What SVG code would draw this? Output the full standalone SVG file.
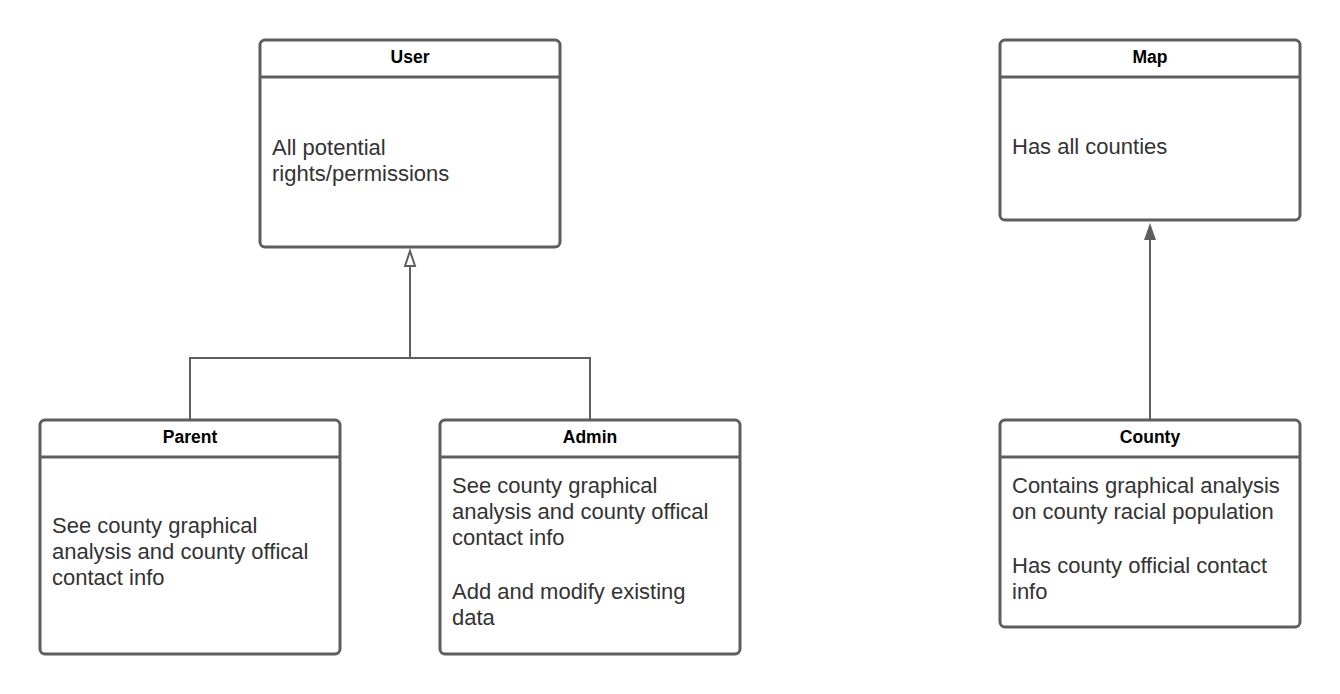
<svg xmlns="http://www.w3.org/2000/svg" width="1340" height="694" viewBox="0 0 1340 694">
<defs>
<style>
.box{fill:#fff;stroke:#5e5e5e;stroke-width:3}
.hl{stroke:#5e5e5e;stroke-width:3}
.title{font-family:"Liberation Sans",Arial,sans-serif;font-weight:bold;font-size:17.5px;fill:#000;text-anchor:middle}
.body{font-family:"Liberation Sans",Arial,sans-serif;font-size:22px;fill:#333}
.con{fill:none;stroke:#5e5e5e;stroke-width:2}
</style>
</defs>
<rect width="1340" height="694" fill="#fff"/>
<g id="connectors">
<polyline class="con" points="190,420 190,358 590,358 590,420"/>
<line class="con" x1="410" y1="358" x2="410" y2="266"/>
<polygon points="410,251 405,266 415,266" fill="#fff" stroke="#5e5e5e" stroke-width="2"/>
<line class="con" x1="1150" y1="420" x2="1150" y2="236"/>
<polygon points="1150,223 1144,240 1156,240" fill="#5e5e5e"/>
</g>
<g id="user">
<rect class="box" x="260" y="40" width="300" height="207" rx="5"/>
<line class="hl" x1="260" y1="77" x2="560" y2="77"/>
<text class="title" x="410" y="63">User</text>
<text class="body" x="272" y="155">All potential</text>
<text class="body" x="272" y="181">rights/permissions</text>
</g>
<g id="map">
<rect class="box" x="1000" y="40" width="300" height="180" rx="5"/>
<line class="hl" x1="1000" y1="77" x2="1300" y2="77"/>
<text class="title" x="1150" y="63">Map</text>
<text class="body" x="1012" y="154">Has all counties</text>
</g>
<g id="parent">
<rect class="box" x="40" y="420" width="300" height="234" rx="5"/>
<line class="hl" x1="40" y1="457" x2="340" y2="457"/>
<text class="title" x="190" y="443">Parent</text>
<text class="body" x="52" y="533">See county graphical</text>
<text class="body" x="52" y="559">analysis and county offical</text>
<text class="body" x="52" y="585">contact info</text>
</g>
<g id="admin">
<rect class="box" x="440" y="420" width="300" height="234" rx="5"/>
<line class="hl" x1="440" y1="457" x2="740" y2="457"/>
<text class="title" x="590" y="443">Admin</text>
<text class="body" x="452" y="493">See county graphical</text>
<text class="body" x="452" y="519">analysis and county offical</text>
<text class="body" x="452" y="545">contact info</text>
<text class="body" x="452" y="599">Add and modify existing</text>
<text class="body" x="452" y="625">data</text>
</g>
<g id="county">
<rect class="box" x="1000" y="420" width="300" height="207" rx="5"/>
<line class="hl" x1="1000" y1="457" x2="1300" y2="457"/>
<text class="title" x="1150" y="443">County</text>
<text class="body" x="1012" y="493">Contains graphical analysis</text>
<text class="body" x="1012" y="519">on county racial population</text>
<text class="body" x="1012" y="573">Has county official contact</text>
<text class="body" x="1012" y="599">info</text>
</g>
</svg>
